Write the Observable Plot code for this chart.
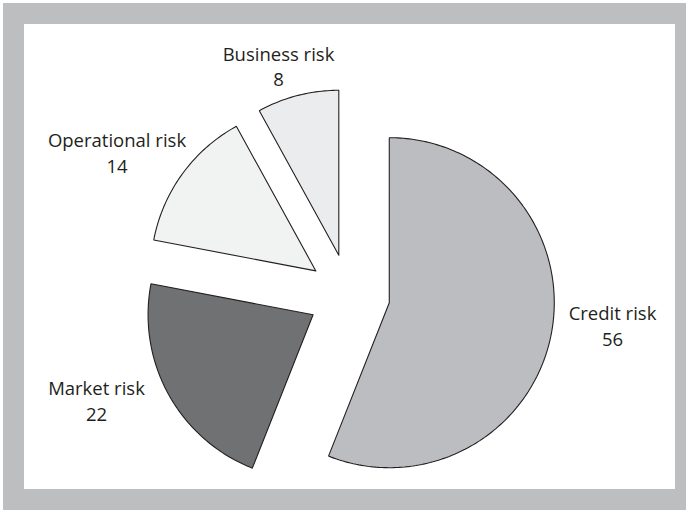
<!DOCTYPE html>
<html>
<head>
<meta charset="utf-8">
<script src="https://cdn.jsdelivr.net/npm/d3@7"></script>
<script src="https://cdn.jsdelivr.net/npm/@observablehq/plot@0.6"></script>
<style>
  html, body { margin: 0; padding: 0; background: #ffffff; }
  #frame { position: absolute; left: 3px; top: 3px; width: 683px; height: 507px; background: #bcbec0; }
  #chart { position: absolute; left: 21px; top: 21px; width: 651px; height: 465px; background: #ffffff; }
  #chart svg { display: block; background: #ffffff; }
</style>
</head>
<body>
<div id="frame"><div id="chart"></div></div>
<script>
// ---- data ----
const categories = ["Credit risk", "Market risk", "Operational risk", "Business risk"];
const values = [56, 22, 14, 8];
const sliceColors = ["#bcbdc0", "#707173", "#f1f2f2", "#ebeced"];

// ---- layout (pixels) ----
const W = 651, H = 465;
const R = 165;                 // pie radius
const CX = 324.5, CY = 270.5;  // pie centre inside the plot
const EXPLODE = 41;            // distance each slice is pulled out
// label block anchors, relative to the pie centre (pixels)
const labelAnchors = [[263.5, 30], [-252.5, 105], [-232, -143], [-70.5, -229.5]];

// ---- build slice polygons from the values ----
const total = d3.sum(values);
const slices = [];
const sliceRows = [];
let acc = 0;
categories.forEach((cat, i) => {
  const a0 = acc / total * 2 * Math.PI;
  acc += values[i];
  const a1 = acc / total * 2 * Math.PI;
  const mid = (a0 + a1) / 2;
  const ox = EXPLODE / R * Math.sin(mid);
  const oy = -EXPLODE / R * Math.cos(mid);
  const pts = [[ox, oy]];
  const n = Math.max(8, Math.ceil((a1 - a0) / (Math.PI / 180)));
  for (let k = 0; k <= n; k++) {
    const a = a0 + (a1 - a0) * k / n;
    pts.push([ox + Math.sin(a), oy - Math.cos(a)]);
  }
  pts.push([ox, oy]);
  pts.forEach(([x, y]) => sliceRows.push({cat, x, y, color: sliceColors[i]}));
  slices.push({cat, value: values[i], label: `${cat}\n${values[i]}`,
               lx: labelAnchors[i][0] / R, ly: labelAnchors[i][1] / R});
});

const chart = Plot.plot({
  width: W,
  height: H,
  margin: 0,
  x: {domain: [-CX / R, (W - CX) / R], range: [0, W], axis: null},
  y: {domain: [-CY / R, (H - CY) / R], range: [0, H], axis: null},
  color: {type: "identity"},
  style: {background: "#ffffff", fontFamily: "'Open Sans', 'Noto Sans', sans-serif"},
  marks: [
    Plot.line(sliceRows, {
      x: "x", y: "y", z: "cat",
      fill: "color",
      stroke: "#231f20",
      strokeWidth: 1.1,
      strokeLinejoin: "miter",
      curve: "linear"
    }),
    Plot.text(slices, {
      x: "lx", y: "ly",
      text: "label",
      fontSize: 18.5,
      lineHeight: 1.37,
      lineAnchor: "middle",
      textAnchor: "middle",
      fill: "#231f20"
    })
  ]
});
document.getElementById("chart").appendChild(chart);
</script>
</body>
</html>
